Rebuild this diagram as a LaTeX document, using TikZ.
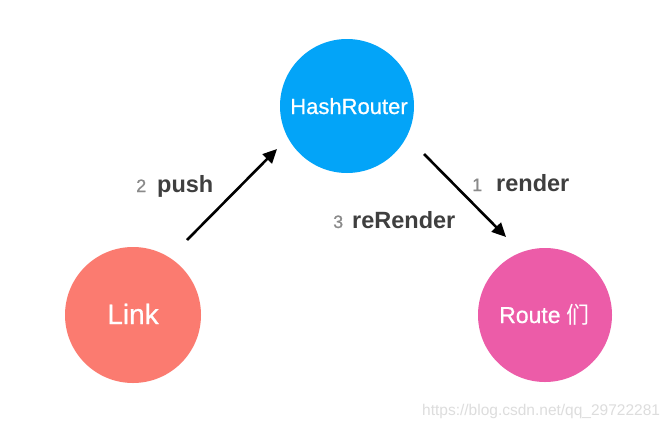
\documentclass[tikz,border=0pt]{standalone}
\usepackage{fontspec}
\setmainfont{Liberation Sans}
\newfontfamily\medfont[FakeBold=0.7]{Liberation Sans}
\newfontfamily\cjk{Noto Sans CJK SC}
\usetikzlibrary{arrows.meta}
\definecolor{hrblue}{HTML}{03A4F8}
\definecolor{linkred}{HTML}{FB7B70}
\definecolor{routepink}{HTML}{EC5CA8}
\definecolor{numgray}{HTML}{8A8A8A}
\definecolor{labgray}{HTML}{3F3F3F}
\definecolor{wmgray}{HTML}{DDDDDD}
\tikzset{
  ball/.style={circle, minimum size=134pt, inner sep=0pt, text=white},
  conn/.style={line width=2.6pt, -{Triangle[length=14pt,width=13pt]}},
  num/.style={anchor=base west, inner sep=0pt, text=numgray, font=\medfont\fontsize{18}{20}\selectfont},
  lab/.style={anchor=base west, inner sep=0pt, text=labgray, font=\bfseries\fontsize{23.5}{25}\selectfont},
}
\begin{document}
\begin{tikzpicture}[x=1pt,y=-1pt]
\useasboundingbox (0,0) rectangle (672,426);
\fill[white] (0,0) rectangle (672,426);
% circles
\node[ball, fill=hrblue] (hr) at (347,106) {};
\node[ball, fill=linkred, minimum size=136pt] (link) at (133,315) {};
\node[ball, fill=routepink] (route) at (545,315) {};
% circle texts
\node[anchor=base, inner sep=0pt, text=white, font=\medfont\fontsize{22}{24}\selectfont] (hrt) at (349,114) {HashRouter};
\node[anchor=base, inner sep=0pt, text=white, font=\medfont\fontsize{28}{30}\selectfont] (linkt) at (133,324) {Link};
\node[anchor=base west, inner sep=0pt, text=white, font=\medfont\fontsize{23}{25}\selectfont] (routet) at (499,323) {Route {\cjk 们}};
% arrows
\coordinate (p1) at (187,240);
\coordinate (p2) at (277,149);
\coordinate (r1) at (424,154);
\coordinate (r2) at (506,237);
\draw[conn] (p1) -- (p2);
\draw[conn] (r1) -- (r2);
% labels
\node[num] (n2) at (136,192) {2};
\node[lab] (l2) at (157,192) {push};
\node[num] (n1) at (472,191) {1};
\node[lab] (l1) at (496,191) {render};
\node[num] (n3) at (333,228) {3};
\node[lab] (l3) at (352,228) {reRender};
% watermark
\node[anchor=base west, inner sep=0pt, text=wmgray, font=\fontsize{15.5}{17}\selectfont] (wm) at (422,415) {https://blog.csdn.net/qq\_29722281};
\end{tikzpicture}
\end{document}
